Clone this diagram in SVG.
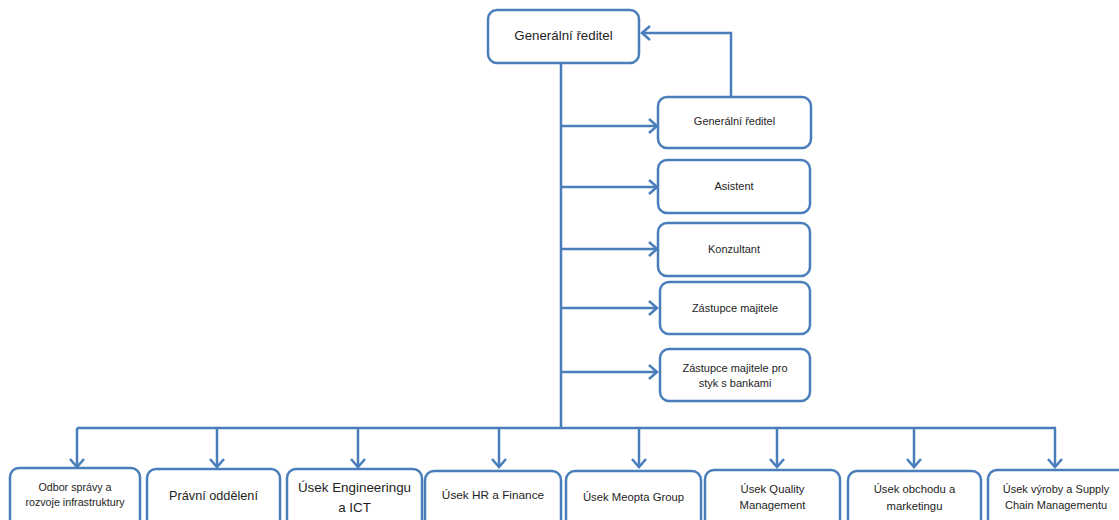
<svg xmlns="http://www.w3.org/2000/svg" width="1119" height="520" viewBox="0 0 1119 520">
  <style>
    .box { fill: #ffffff; stroke: #4a7ebb; stroke-width: 2.5; }
    .wire { fill: none; stroke: #4a7ebb; stroke-width: 2.5; }
    text { font-family: "Liberation Sans", Arial, sans-serif; fill: #1e1e1e; text-anchor: middle; }
    .t-top { font-size: 13.3px; }
    .t-side { font-size: 11px; }
    .t-unit { font-size: 12px; }
  </style>
  <defs>
    <marker id="arrow" markerUnits="userSpaceOnUse" markerWidth="16" markerHeight="18" refX="11" refY="9" orient="auto">
      <path d="M3,2 L11,9 L3,16" fill="none" stroke="#4a7ebb" stroke-width="2.5"/>
    </marker>
  </defs>
  <rect width="1119" height="520" fill="#ffffff"/>

  <!-- connectors -->
  <g id="connectors">
    <path class="wire" d="M561,63 V428"/>
    <path class="wire" d="M77,428 H1056"/>
    <path class="wire" d="M731,97 V33 H642" marker-end="url(#arrow)"/>
    <path class="wire" d="M561,126 H657" marker-end="url(#arrow)"/>
    <path class="wire" d="M561,187 H657" marker-end="url(#arrow)"/>
    <path class="wire" d="M561,249 H657" marker-end="url(#arrow)"/>
    <path class="wire" d="M561,308 H657" marker-end="url(#arrow)"/>
    <path class="wire" d="M561,372 H657" marker-end="url(#arrow)"/>
    <path class="wire" d="M77,428 V467" marker-end="url(#arrow)"/>
    <path class="wire" d="M217,428 V467" marker-end="url(#arrow)"/>
    <path class="wire" d="M358,428 V467" marker-end="url(#arrow)"/>
    <path class="wire" d="M499,428 V467" marker-end="url(#arrow)"/>
    <path class="wire" d="M639,428 V467" marker-end="url(#arrow)"/>
    <path class="wire" d="M777,428 V467" marker-end="url(#arrow)"/>
    <path class="wire" d="M914,428 V467" marker-end="url(#arrow)"/>
    <path class="wire" d="M1055,428 V467" marker-end="url(#arrow)"/>
  </g>

  <!-- top -->
  <g id="ceo">
    <rect class="box" x="488" y="10" width="151" height="53" rx="9"/>
    <text class="t-top" x="563.5" y="40">Generální ředitel</text>
  </g>

  <!-- staff -->
  <g id="ceo-staff">
    <rect class="box" x="658" y="97" width="153" height="51" rx="9"/>
    <text class="t-side" x="734.5" y="125">Generální ředitel</text>
  </g>
  <g id="assistant">
    <rect class="box" x="658" y="160" width="152" height="53" rx="9"/>
    <text class="t-side" x="734" y="190">Asistent</text>
  </g>
  <g id="consultant">
    <rect class="box" x="658" y="223" width="152" height="53" rx="9"/>
    <text class="t-side" x="734" y="253">Konzultant</text>
  </g>
  <g id="owner-rep">
    <rect class="box" x="660" y="282" width="150" height="52" rx="9"/>
    <text class="t-side" x="735" y="312">Zástupce majitele</text>
  </g>
  <g id="owner-rep-banks">
    <rect class="box" x="660" y="349" width="150" height="52" rx="9"/>
    <text class="t-side" x="735" y="372">Zástupce majitele pro</text>
    <text class="t-side" x="735" y="387">styk s bankami</text>
  </g>

  <!-- divisions -->
  <g id="infrastructure">
    <rect class="box" x="10" y="468" width="130" height="62" rx="9"/>
    <text x="75" y="491" style="font-size:10.7px">Odbor správy a</text>
    <text x="75" y="506" style="font-size:10.7px">rozvoje infrastruktury</text>
  </g>
  <g id="legal">
    <rect class="box" x="147" y="469" width="133" height="62" rx="9"/>
    <text x="213.5" y="500" style="font-size:12.7px">Právní oddělení</text>
  </g>
  <g id="engineering">
    <rect class="box" x="287" y="469" width="135" height="62" rx="9"/>
    <text x="354.5" y="492" style="font-size:13.4px">Úsek Engineeringu</text>
    <text x="354.5" y="512" style="font-size:13.4px">a ICT</text>
  </g>
  <g id="hr-finance">
    <rect class="box" x="425" y="471" width="136" height="62" rx="9"/>
    <text x="493" y="499" style="font-size:11.8px">Úsek HR a Finance</text>
  </g>
  <g id="meopta-group">
    <rect class="box" x="566" y="471" width="135" height="62" rx="9"/>
    <text x="633.5" y="501" style="font-size:11.3px">Úsek Meopta Group</text>
  </g>
  <g id="quality">
    <rect class="box" x="705" y="470" width="135" height="62" rx="9"/>
    <text x="772.5" y="493" style="font-size:11.3px">Úsek Quality</text>
    <text x="772.5" y="509" style="font-size:11.3px">Management</text>
  </g>
  <g id="sales">
    <rect class="box" x="848" y="471" width="133" height="62" rx="9"/>
    <text x="914.5" y="493" style="font-size:11.3px">Úsek obchodu a</text>
    <text x="914.5" y="510" style="font-size:11.3px">marketingu</text>
  </g>
  <g id="production">
    <rect class="box" x="988" y="470" width="140" height="62" rx="9"/>
    <text x="1056" y="493" style="font-size:11px">Úsek výroby a Supply</text>
    <text x="1056" y="509" style="font-size:11px">Chain Managementu</text>
  </g>
</svg>
